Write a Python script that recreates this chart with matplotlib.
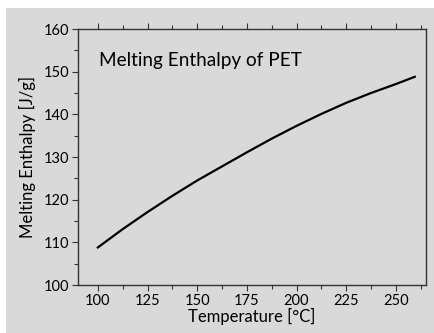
import matplotlib.pyplot as plt
from matplotlib.patches import Rectangle
from matplotlib.ticker import MultipleLocator

# melting enthalpy of PET vs. temperature
temperature = [100, 112.5, 125, 137.5, 150, 162.5, 175, 187.5, 200,
               212.5, 225, 237.5, 250, 259.5]
enthalpy = [108.8, 113.1, 117.1, 120.9, 124.5, 127.8, 131.1, 134.3, 137.3,
            140.1, 142.7, 145.0, 147.1, 148.8]

plt.rcParams['font.family'] = ['Lato', 'DejaVu Sans']

fig = plt.figure(figsize=(4.35, 3.33), dpi=100, facecolor='white')
# grey panel behind the plot
fig.patches.append(Rectangle((6 / 435, 0), 1, 1 - 8 / 333, transform=fig.transFigure,
                             facecolor='#d9d9d9', edgecolor='none', zorder=-10))

ax = fig.add_axes([0.1793, 0.1441, 0.7993, 0.7688])
ax.set_facecolor('#d9d9d9')

ax.plot(temperature, enthalpy, color='black', lw=1.6, solid_joinstyle='round')

ax.set_xlim(90, 265)
ax.set_ylim(100, 160)
ax.xaxis.set_major_locator(MultipleLocator(25))
ax.xaxis.set_minor_locator(MultipleLocator(12.5))
ax.yaxis.set_major_locator(MultipleLocator(10))
ax.yaxis.set_minor_locator(MultipleLocator(5))

ax.tick_params(which='both', direction='out', colors='#333333', width=0.8,
               labelcolor='black', labelsize=10.5, top=True, right=False)
ax.tick_params(which='major', length=4.5, pad=2)
ax.tick_params(which='minor', length=3)
for s in ax.spines.values():
    s.set_color('#333333')
    s.set_linewidth(1.0)

ax.set_xlabel('Temperature [°C]', fontsize=12, labelpad=0)
ax.set_ylabel('Melting Enthalpy [J/g]', fontsize=12, labelpad=5)

ax.text(0.06, 0.857, 'Melting Enthalpy of PET', transform=ax.transAxes,
        fontsize=13.7, ha='left', va='baseline')

fig.savefig('out.png', dpi=100, facecolor=fig.get_facecolor())
